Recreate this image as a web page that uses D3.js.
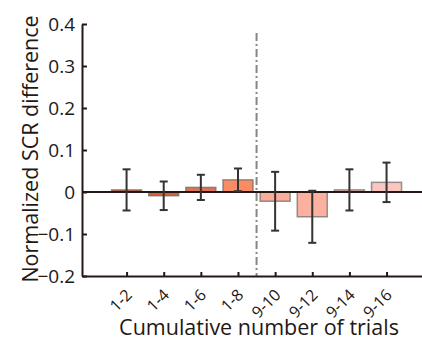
<!DOCTYPE html>
<html>
<head>
<meta charset="utf-8">
<script src="https://cdn.jsdelivr.net/npm/d3@7"></script>
<style>
  body { margin: 0; background: #fff; }
  text { font-family: "Open Sans", "DejaVu Sans", sans-serif; fill: #231815; }
</style>
</head>
<body>
<div id="chart"></div>
<script>
// Data
var labels = ["1-2", "1-4", "1-6", "1-8", "9-10", "9-12", "9-14", "9-16"];
var means = [0.005, -0.009, 0.011, 0.029, -0.022, -0.059, 0.005, 0.023];
var errs = [0.049, 0.034, 0.030, 0.027, 0.070, 0.062, 0.049, 0.047];
var colors = ["#c85a3c", "#d4603e", "#dc7458", "#f88c64", "#fcac98", "#fcb0a0", "#f4b8b0", "#fcc6c0"];
var yTicks = [-0.2, -0.1, 0, 0.1, 0.2, 0.3, 0.4];

var width = 422, height = 342;
var axisColor = "#231815";

var svg = d3.select("#chart").append("svg")
  .attr("width", width)
  .attr("height", height);

// scales
var x = d3.scaleLinear().domain([-0.2, 9]).range([82, 82 + 9.2 * 37.14]);
var y = d3.scaleLinear().domain([-0.2, 0.4]).range([276, 24]);
var barW = 30;

// dash-dot separator between 1-8 and 9-10
svg.append("line")
  .attr("x1", x(4.5)).attr("x2", x(4.5))
  .attr("y1", 33).attr("y2", y(-0.2))
  .attr("stroke", "#8c8484")
  .attr("stroke-width", 2)
  .attr("stroke-dasharray", "8,3,2,3");

// bars
svg.selectAll(".bar")
  .data(means)
  .enter()
  .append("rect")
  .attr("class", "bar")
  .attr("x", function(d, i) { return x(i + 1) - barW / 2; })
  .attr("y", function(d) { return y(Math.max(0, d)); })
  .attr("width", barW)
  .attr("height", function(d) { return Math.abs(y(d) - y(0)); })
  .attr("fill", function(d, i) { return colors[i]; })
  .attr("stroke", "#6a6a6a")
  .attr("stroke-opacity", 0.7)
  .attr("stroke-width", 1.5);

// zero line
svg.append("line")
  .attr("x1", x(-0.2)).attr("x2", width)
  .attr("y1", y(0)).attr("y2", y(0))
  .attr("stroke", axisColor)
  .attr("stroke-width", 2);

// error bars
var eb = svg.selectAll(".err")
  .data(means)
  .enter()
  .append("g")
  .attr("class", "err")
  .attr("stroke", "#333")
  .attr("stroke-width", 2);

eb.append("line")
  .attr("x1", function(d, i) { return x(i + 1); })
  .attr("x2", function(d, i) { return x(i + 1); })
  .attr("y1", function(d, i) { return y(d + errs[i]); })
  .attr("y2", function(d, i) { return y(d - errs[i]); });

eb.append("line")
  .attr("x1", function(d, i) { return x(i + 1) - 4; })
  .attr("x2", function(d, i) { return x(i + 1) + 4; })
  .attr("y1", function(d, i) { return y(d + errs[i]); })
  .attr("y2", function(d, i) { return y(d + errs[i]); });

eb.append("line")
  .attr("x1", function(d, i) { return x(i + 1) - 4; })
  .attr("x2", function(d, i) { return x(i + 1) + 4; })
  .attr("y1", function(d, i) { return y(d - errs[i]); })
  .attr("y2", function(d, i) { return y(d - errs[i]); });

// y axis
var yAxis = d3.axisLeft(y)
  .tickValues(yTicks)
  .tickFormat(function(d) { return d === 0 ? "0" : d3.format(".1f")(d); })
  .tickSizeInner(-5)
  .tickSizeOuter(0)
  .tickPadding(7);

var gy = svg.append("g")
  .attr("transform", "translate(" + x(-0.2) + ",0)")
  .call(yAxis);
gy.select(".domain").attr("stroke", axisColor).attr("stroke-width", 2);
gy.selectAll(".tick line").attr("stroke", axisColor).attr("stroke-width", 2);
gy.selectAll(".tick text")
  .style("font-size", "19px")
  .attr("fill", axisColor);

// x axis
var xAxis = d3.axisBottom(x)
  .tickValues(d3.range(1, labels.length + 1))
  .tickFormat(function(d) { return labels[d - 1]; })
  .tickSizeInner(-4)
  .tickSizeOuter(0);

var gx = svg.append("g")
  .attr("transform", "translate(0," + y(-0.2) + ")")
  .call(xAxis);
gx.select(".domain").attr("stroke", axisColor).attr("stroke-width", 2);
gx.selectAll(".tick line").attr("stroke", axisColor).attr("stroke-width", 2);
gx.selectAll(".tick text")
  .style("font-size", "16px")
  .attr("fill", axisColor)
  .attr("text-anchor", "end")
  .attr("x", 0)
  .attr("y", 0)
  .attr("dy", "0.35em")
  .attr("transform", "translate(2,16) rotate(-45)");

// axis titles
svg.append("text")
  .attr("transform", "translate(30,149) rotate(-90)")
  .attr("text-anchor", "middle")
  .attr("dy", "0.35em")
  .style("font-size", "21.5px")
  .text("Normalized SCR difference");

svg.append("text")
  .attr("x", 259)
  .attr("y", 335)
  .attr("text-anchor", "middle")
  .style("font-size", "21.5px")
  .text("Cumulative number of trials");
</script>
</body>
</html>
